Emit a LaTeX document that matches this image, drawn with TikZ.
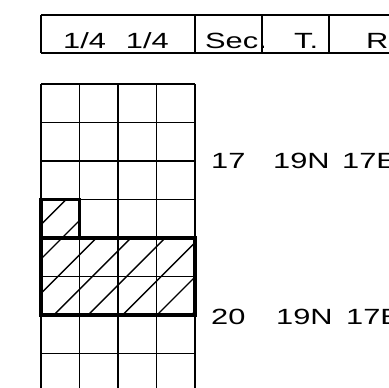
\documentclass[tikz,border=0pt]{standalone}
\usepackage{fontspec}
\setmainfont[FakeStretch=1.4]{Liberation Sans}
\begin{document}
\begin{tikzpicture}[x=1bp,y=-1bp,
  thin line/.style={line width=1.4bp},
  thick line/.style={line width=3.6bp},
  hatch/.style={line width=1.4bp},
  lbl/.style={anchor=base west,inner sep=0pt,font=\fontsize{22bp}{26bp}\selectfont}]
\useasboundingbox (0,0) rectangle (389,388);
% header table
\draw[thin line] (41,15) -- (400,15) (41,53) -- (400,53);
\draw[thin line] (41,15) -- (41,53) (195,15) -- (195,53) (262,15) -- (262,53) (329,15) -- (329,53);
\node[lbl] (h1) at (63,48) {1/4\hspace{20bp}1/4};
\node[lbl] (h2) at (205,48) {Sec.};
\node[lbl] (h3) at (294,48) {T.};
\node[lbl] (h4) at (366,48) {R.};
% grid
\foreach \x in {41,79.5,118,156.5,195} \draw[thin line] (\x,84) -- (\x,400);
\foreach \y in {84,122.5,161,199.5,238,276.5,315,353.5} \draw[thin line] (41,\y) -- (195,\y);
% hatching
\begin{scope}
\clip (41,199.5) rectangle (79.5,238) (41,238) rectangle (195,315);
\foreach \c in {265.6,300,334.4,368.8,403.2,437.6,472,506.4} \draw[hatch] (0,\c) -- (\c,0);
\end{scope}
\draw[thick line] (41,238) -- (41,199.5) -- (79.5,199.5) -- (79.5,238);
\draw[thick line] (41,238) rectangle (195,315);
% labels
\node[lbl] (a1) at (211,168) {17};
\node[lbl] (a2) at (273,168) {19N};
\node[lbl] (a3) at (342,168) {17E};
\node[lbl] (b1) at (211,324) {20};
\node[lbl] (b2) at (276,324) {19N};
\node[lbl] (b3) at (346,324) {17E};
\end{tikzpicture}
\end{document}
